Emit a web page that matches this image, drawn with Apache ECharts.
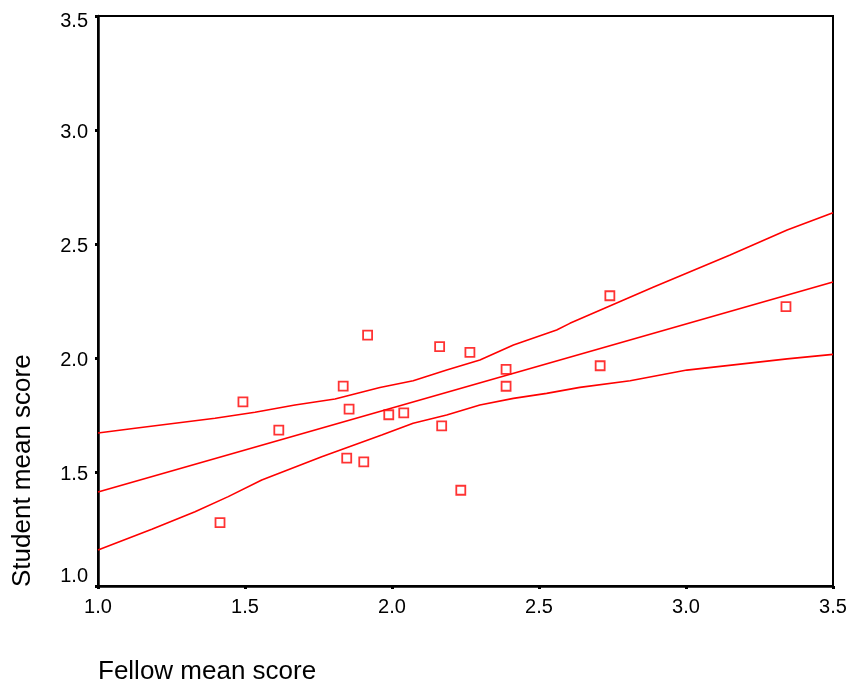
<!DOCTYPE html>
<html>
<head>
<meta charset="utf-8">
<title>Student vs Fellow mean score</title>
<script src="https://cdn.jsdelivr.net/npm/echarts@6/dist/echarts.min.js"></script>
<style>
  html, body { margin: 0; padding: 0; background: #fff; }
  #chart { width: 850px; height: 686px; }
</style>
</head>
<body>
<div id="chart"></div>
<script>
// observed points: fellow mean score (x), student mean score (y)
var fellowScore = [1.415, 1.493, 1.615, 1.834, 1.854, 1.846, 1.904, 1.917, 1.989, 2.040,
                   2.162, 2.169, 2.234, 2.265, 2.388, 2.388, 2.708, 2.741, 3.340];
var studentScore = [1.278, 1.808, 1.684, 1.877, 1.776, 1.561, 1.544, 2.100, 1.751, 1.759,
                    2.050, 1.702, 1.420, 2.025, 1.950, 1.876, 1.966, 2.273, 2.225];

// fitted line (two ends)
var fitX = [1.0, 3.5];
var fitY = [1.412, 2.333];

// upper confidence band
var upperX = [1.0, 1.126, 1.262, 1.398, 1.534, 1.670, 1.806, 1.959, 2.072, 2.186, 2.299,
              2.413, 2.560, 2.605, 2.888, 3.150, 3.344, 3.5];
var upperY = [1.671, 1.692, 1.714, 1.736, 1.762, 1.794, 1.820, 1.871, 1.900, 1.947, 1.991,
              2.057, 2.123, 2.152, 2.310, 2.452, 2.561, 2.637];

// lower confidence band
var lowerX = [1.0, 1.183, 1.330, 1.443, 1.557, 1.761, 1.965, 2.072, 2.186, 2.299, 2.413,
              2.526, 2.639, 2.810, 3.003, 3.344, 3.5];
var lowerY = [1.158, 1.249, 1.326, 1.392, 1.465, 1.567, 1.662, 1.714, 1.750, 1.794, 1.823,
              1.845, 1.871, 1.900, 1.947, 1.996, 2.016];

var tickLabels = ['1.0', '1.5', '2.0', '2.5', '3.0', '3.5'];

function pairs(xs, ys) {
  var out = [];
  for (var i = 0; i < xs.length; i++) {
    out.push([xs[i], ys[i]]);
  }
  return out;
}

function tickText(v) {
  return tickLabels[Math.round((v - 1) / 0.5)];
}

var font = 'Liberation Sans, Arial, sans-serif';
var red = '#ff0000';

var chart = echarts.init(document.getElementById('chart'));

var lineStyle = { color: red, width: 1.6 };

var option = {
  animation: false,
  backgroundColor: '#fff',
  grid: {
    left: 98,
    right: 17,
    top: 16,
    bottom: 100,
    show: true,
    borderColor: '#000',
    borderWidth: 2,
    backgroundColor: 'transparent'
  },
  xAxis: {
    type: 'value',
    min: 1,
    max: 3.5,
    interval: 0.5,
    axisLine: { show: true, lineStyle: { color: '#000', width: 2.5 } },
    axisTick: { show: true, length: 3, lineStyle: { color: '#000', width: 3 } },
    splitLine: { show: false },
    axisLabel: {
      color: '#000',
      fontFamily: font,
      fontSize: 20,
      margin: 11,
      formatter: tickText
    }
  },
  yAxis: {
    type: 'value',
    min: 1,
    max: 3.5,
    interval: 0.5,
    axisLine: { show: true, lineStyle: { color: '#000', width: 2.5 } },
    axisTick: { show: true, length: 3, lineStyle: { color: '#000', width: 3 } },
    splitLine: { show: false },
    axisLabel: {
      color: '#000',
      fontFamily: font,
      fontSize: 20,
      margin: 10,
      formatter: function(v) {
        if (v === 1) return '{lo|' + tickText(v) + '}';
        if (v === 3.5) return '{hi|' + tickText(v) + '}';
        return '{mid|' + tickText(v) + '}';
      },
      rich: {
        lo: { fontFamily: font, fontSize: 20, color: '#000', padding: [0, 0, 20, 0] },
        hi: { fontFamily: font, fontSize: 20, color: '#000', padding: [10, 0, 0, 0] },
        mid: { fontFamily: font, fontSize: 20, color: '#000', padding: [4, 0, 0, 0] }
      }
    }
  },
  graphic: [
    {
      type: 'text',
      x: 98,
      y: 672,
      style: {
        text: 'Fellow mean score',
        fontFamily: font,
        fontSize: 26,
        fill: '#000',
        textAlign: 'left',
        textVerticalAlign: 'middle'
      }
    },
    {
      type: 'text',
      x: 23,
      y: 587,
      rotation: Math.PI / 2,
      style: {
        text: 'Student mean score',
        fontFamily: font,
        fontSize: 26,
        fill: '#000',
        textAlign: 'left',
        textVerticalAlign: 'middle'
      }
    }
  ],
  series: [
    {
      name: 'Upper',
      type: 'line',
      data: pairs(upperX, upperY),
      showSymbol: false,
      lineStyle: lineStyle,
      z: 2
    },
    {
      name: 'Fit',
      type: 'line',
      data: pairs(fitX, fitY),
      showSymbol: false,
      lineStyle: lineStyle,
      z: 2
    },
    {
      name: 'Lower',
      type: 'line',
      data: pairs(lowerX, lowerY),
      showSymbol: false,
      lineStyle: lineStyle,
      z: 2
    },
    {
      name: 'Observed',
      type: 'scatter',
      data: pairs(fellowScore, studentScore),
      symbol: 'rect',
      symbolSize: 9,
      itemStyle: { color: '#fff', borderColor: red, borderWidth: 1.8 },
      z: 3
    }
  ]
};

chart.setOption(option);
</script>
</body>
</html>
